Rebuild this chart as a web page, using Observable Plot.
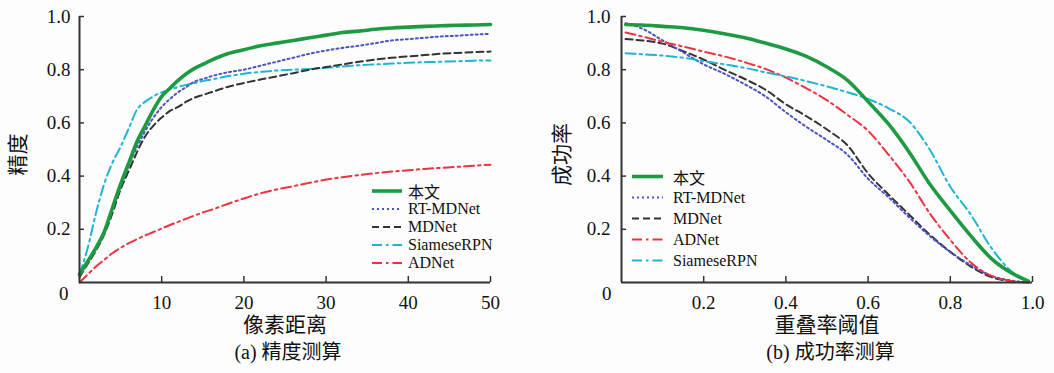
<!DOCTYPE html>
<html><head><meta charset="utf-8">
<script src="https://cdn.jsdelivr.net/npm/d3@7"></script>
<script src="https://cdn.jsdelivr.net/npm/@observablehq/plot@0.6"></script>
<style>
body{margin:0;background:#fdfdfd;}
#wrap{display:flex;width:1054px;height:373px;overflow:hidden;}
.fig{position:relative;}
.fig svg text{font-family:"Liberation Serif","Noto Sans CJK SC",serif;}
.cap{font-family:"Liberation Serif","Noto Sans CJK SC",serif;font-size:20px;line-height:28px;text-align:center;color:#111;}
.legend{position:absolute;font-family:"Liberation Serif","Noto Sans CJK SC",serif;font-size:16px;color:#111;}
.legend .row{display:flex;align-items:center;white-space:nowrap;}
.legend svg{display:block;overflow:visible;}
</style></head><body>
<div id="wrap"><div class="fig" id="figA"></div><div class="fig" id="figB"></div></div>
<script>
// ---------- (a) precision plot data ----------
const pixelDistance = [0,1,2,3,4,5,6,7,8,9,10,11,12,13,14,15,16,18,20,22,24,26,28,30,32,34,36,38,40,42,44,46,48,50];
const precOurs      = [0.03,0.08,0.13,0.19,0.28,0.37,0.45,0.53,0.59,0.65,0.70,0.73,0.76,0.785,0.805,0.82,0.835,0.86,0.875,0.89,0.90,0.91,0.92,0.93,0.94,0.945,0.952,0.957,0.96,0.963,0.965,0.967,0.968,0.97];
const precRTMDNet   = [0.03,0.08,0.13,0.19,0.28,0.36,0.44,0.51,0.57,0.62,0.66,0.69,0.715,0.735,0.755,0.765,0.775,0.79,0.80,0.815,0.83,0.845,0.86,0.872,0.882,0.89,0.90,0.91,0.915,0.92,0.925,0.928,0.932,0.935];
const precMDNet     = [0.02,0.07,0.12,0.18,0.26,0.35,0.42,0.49,0.55,0.59,0.62,0.645,0.66,0.68,0.695,0.705,0.715,0.735,0.75,0.763,0.775,0.787,0.80,0.81,0.82,0.83,0.838,0.845,0.85,0.855,0.86,0.863,0.866,0.868];
const precSiamese   = [0.03,0.13,0.26,0.37,0.45,0.51,0.58,0.65,0.68,0.70,0.715,0.725,0.735,0.743,0.75,0.757,0.763,0.775,0.785,0.792,0.797,0.80,0.803,0.807,0.812,0.817,0.82,0.823,0.826,0.828,0.83,0.832,0.834,0.835];
const precADNet     = [0,0.03,0.06,0.085,0.11,0.13,0.148,0.163,0.177,0.19,0.203,0.216,0.228,0.24,0.252,0.263,0.273,0.295,0.316,0.335,0.35,0.362,0.375,0.387,0.396,0.404,0.411,0.417,0.422,0.427,0.431,0.435,0.439,0.443];
const precXTicks = [10,20,30,40,50];

// ---------- (b) success plot data ----------
const overlapThreshold = [0.01,0.05,0.10,0.15,0.20,0.25,0.30,0.35,0.40,0.45,0.50,0.55,0.60,0.65,0.70,0.75,0.80,0.85,0.90,0.95,0.99];
const succOurs    = [0.97,0.968,0.963,0.958,0.948,0.935,0.92,0.90,0.878,0.85,0.81,0.76,0.68,0.595,0.49,0.37,0.27,0.175,0.09,0.035,0.005];
const succRTMDNet = [0.975,0.955,0.91,0.865,0.82,0.785,0.745,0.70,0.64,0.585,0.535,0.48,0.39,0.32,0.245,0.175,0.115,0.065,0.025,0.007,0];
const succMDNet   = [0.915,0.91,0.898,0.87,0.838,0.80,0.765,0.725,0.67,0.625,0.575,0.515,0.41,0.33,0.255,0.18,0.115,0.06,0.02,0.005,0];
const succADNet   = [0.94,0.925,0.905,0.887,0.868,0.85,0.828,0.803,0.77,0.73,0.685,0.63,0.57,0.48,0.38,0.26,0.16,0.075,0.025,0.005,0];
const succSiamese = [0.862,0.858,0.853,0.845,0.832,0.82,0.807,0.79,0.775,0.757,0.737,0.715,0.69,0.655,0.605,0.50,0.36,0.255,0.13,0.04,0.003];
const succXTicks = [0.2,0.4,0.6,0.8,1.0];

const yTicks = [0.2,0.4,0.6,0.8,1.0];

const precLegendOrder = ["本文","RT-MDNet","MDNet","SiameseRPN","ADNet"];
const succLegendOrder = ["本文","RT-MDNet","MDNet","ADNet","SiameseRPN"];

// ---------- styles ----------
const STYLE = {
  "本文":       {stroke:"#1e9a42", strokeWidth:3.6},
  "RT-MDNet":   {stroke:"#4a52c4", strokeWidth:2, strokeDasharray:"2,3"},
  "MDNet":      {stroke:"#333333", strokeWidth:2, strokeDasharray:"7,4"},
  "SiameseRPN": {stroke:"#1db4d6", strokeWidth:2, strokeDasharray:"10,4,2.5,4"},
  "ADNet":      {stroke:"#ee3340", strokeWidth:2, strokeDasharray:"10,4,2.5,4"}
};
const FONT = "Liberation Serif, Noto Sans CJK SC, serif";

function makeChart(cfg) {
  const H = 338, mt = 16, mb = 56;
  const innerH = H - mt - mb, innerW = cfg.width - cfg.ml - cfg.mr;
  const rows = cfg.series.flatMap(s => cfg.xs.map((x, i) => ({x, y: s.values[i], name: s.name})));
  const marks = [];
  for (const s of cfg.series) {
    marks.push(Plot.line(rows.filter(r => r.name === s.name), {x: "x", y: "y", curve: "monotone-x", strokeLinejoin: "round", ...STYLE[s.name]}));
  }
  marks.push(
    Plot.ruleX([cfg.xDomain[0]], {stroke: "#333", strokeWidth: 2}),
    Plot.ruleY([0], {stroke: "#333", strokeWidth: 2}),
    Plot.ruleX(cfg.xTicks, {insetTop: innerH - 6, stroke: "#333", strokeWidth: 1.5}),
    Plot.ruleY(yTicks, {insetRight: innerW - 5, stroke: "#333", strokeWidth: 1.5}),
    Plot.axisX(cfg.xTicks, {tickSize: 0, tickPadding: 13, tickFormat: cfg.xFmt, fontSize: 19, fontFamily: FONT, label: null}),
    Plot.axisY(yTicks, {tickSize: 0, tickPadding: cfg.yPad, tickFormat: d3.format(".1f"), fontSize: 19, fontFamily: FONT, label: null}),
    Plot.text([{x: cfg.xDomain[0], y: 0, t: "0"}], {x: "x", y: "y", text: "t", textAnchor: "end", dx: -cfg.zeroDx, dy: 11, fontSize: 19, fontFamily: FONT}),
    Plot.text([cfg.xLabel], {text: d => d, frameAnchor: "bottom", lineAnchor: "middle", textAnchor: "middle", dy: 43, fontSize: 21, fontFamily: FONT}),
    Plot.text([cfg.yLabel], {text: d => d, frameAnchor: "left", rotate: -90, textAnchor: "middle", lineAnchor: "middle", dx: -cfg.yLabelDx, dy: 5, fontSize: 21, fontFamily: FONT})
  );
  return Plot.plot({
    width: cfg.width, height: H,
    marginLeft: cfg.ml, marginRight: cfg.mr, marginTop: mt, marginBottom: mb,
    x: {domain: cfg.xDomain, label: null},
    y: {domain: [0, 1], label: null},
    style: {fontFamily: FONT, fontSize: "19px", color: "#111", background: "transparent", overflow: "visible"},
    marks
  });
}

function makeLegend(order, {left, top, rowH, sampleW, gap}) {
  const div = document.createElement("div");
  div.className = "legend";
  div.style.left = left + "px";
  div.style.top = top + "px";
  for (const name of order) {
    const st = STYLE[name];
    const row = document.createElement("div");
    row.className = "row";
    row.style.height = rowH + "px";
    const svg = d3.create("svg").attr("width", sampleW).attr("height", rowH);
    svg.append("line").attr("x1", 0).attr("x2", sampleW).attr("y1", rowH / 2).attr("y2", rowH / 2)
      .attr("stroke", st.stroke).attr("stroke-width", st.strokeWidth)
      .attr("stroke-dasharray", st.strokeDasharray || null);
    row.appendChild(svg.node());
    const t = document.createElement("span");
    t.textContent = name;
    t.style.marginLeft = gap + "px";
    row.appendChild(t);
    div.appendChild(row);
  }
  return div;
}

// ---------- (a) ----------
const figA = document.getElementById("figA");
figA.style.width = "530px";
figA.appendChild(makeChart({
  width: 530, ml: 79, mr: 40, xs: pixelDistance, xDomain: [0, 50], xTicks: precXTicks, xFmt: d3.format("d"),
  yPad: 9, zeroDx: 11, yLabelDx: 61, xLabel: "像素距离", yLabel: "精度",
  series: [
    {name: "ADNet", values: precADNet},
    {name: "SiameseRPN", values: precSiamese},
    {name: "MDNet", values: precMDNet},
    {name: "RT-MDNet", values: precRTMDNet},
    {name: "本文", values: precOurs}
  ]
}));
figA.appendChild(makeLegend(precLegendOrder, {left: 372, top: 182, rowH: 18, sampleW: 30, gap: 6}));
const capA = document.createElement("div");
capA.className = "cap";
capA.style.paddingLeft = "86px"; capA.style.paddingRight = "40px";
capA.textContent = "(a) 精度测算";
figA.appendChild(capA);

// ---------- (b) ----------
const figB = document.getElementById("figB");
figB.style.width = "524px";
figB.appendChild(makeChart({
  width: 524, ml: 91, mr: 22, xs: overlapThreshold, xDomain: [0, 1], xTicks: succXTicks, xFmt: d3.format(".1f"),
  yPad: 11, zeroDx: 10, yLabelDx: 59, xLabel: "重叠率阈值", yLabel: "成功率",
  series: [
    {name: "MDNet", values: succMDNet},
    {name: "RT-MDNet", values: succRTMDNet},
    {name: "ADNet", values: succADNet},
    {name: "SiameseRPN", values: succSiamese},
    {name: "本文", values: succOurs}
  ]
}));
figB.appendChild(makeLegend(succLegendOrder, {left: 102, top: 166, rowH: 21, sampleW: 31, gap: 10}));
const capB = document.createElement("div");
capB.className = "cap";
capB.style.paddingLeft = "99px"; capB.style.paddingRight = "22px";
capB.textContent = "(b) 成功率测算";
figB.appendChild(capB);
</script>
</body></html>
